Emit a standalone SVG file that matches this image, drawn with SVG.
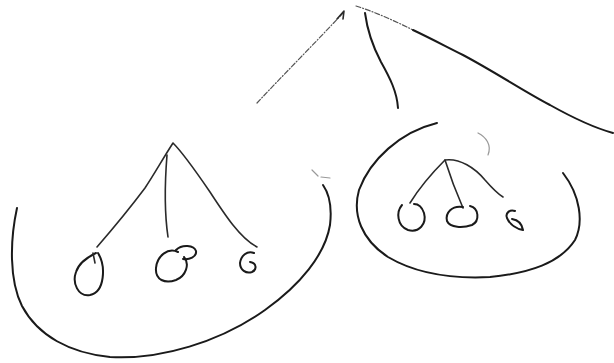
<svg xmlns="http://www.w3.org/2000/svg" width="614" height="363" viewBox="0 0 614 363">
<style>
.s{fill:none;stroke:#1a1a1a;stroke-width:2;stroke-linecap:round;stroke-linejoin:round}
.t{fill:none;stroke:#2a2a2a;stroke-width:1.6;stroke-linecap:round;stroke-linejoin:round}
.f{fill:none;stroke:#555;stroke-width:1.2;stroke-linecap:round;stroke-dasharray:5 2 1 2}
.g{fill:none;stroke:#999;stroke-width:1.2;stroke-linecap:round}
</style>
<rect width="614" height="363" fill="#fff"/>
<g id="connectors">
<path class="f" d="M257,103 C285,73 315,43 343,13"/>
<path class="t" d="M337,19 L344,11 L343,19"/>
<path class="f" d="M356,6 C375,12 395,21 413,30"/>
<path class="s" d="M413,30 C430,38 445,46 463,55 C495,72 525,92 550,105 C575,119 595,128 613,133"/>
<path class="s" d="M365,13 C367,28 372,45 381,62 C390,78 397,92 398,108"/>
</g>
<g id="left-group">
<path class="s" d="M17,208 C10,240 9,280 22,306 C38,336 70,353 110,357 C160,360 220,342 265,310 C300,285 325,255 330,225 C332,208 330,195 323,185"/>
<path class="g" d="M312,170 L318,176 M321,177 L330,178"/>
</g>
<g id="left-tree">
<path class="t" d="M97,247 C110,232 130,208 145,188 C155,173 162,160 173,143 C182,152 195,170 210,192 C225,215 240,238 257,247"/>
<path class="t" d="M167,155 C165,180 164,210 168,237"/>
</g>
<g id="left-node-1">
<path class="s" d="M98,253 C106,266 105,292 90,295 C78,297 72,283 76,272 C79,263 86,258 96,253"/>
<path class="t" d="M93,253 L95,263"/>
</g>
<g id="left-node-2">
<path class="s" d="M178,252 C168,247 157,256 156,268 C155,280 165,284 176,280 C186,276 190,264 184,257"/>
<path class="s" d="M176,250 C182,244 194,245 196,251 C197,257 189,260 183,259"/>
</g>
<g id="left-node-3">
<path class="s" d="M254,253 C247,250 241,256 240,263 C240,270 246,274 252,272 C257,270 257,263 250,262"/>
</g>
<g id="right-group">
<path class="s" d="M437,123 C400,132 370,160 359,190 C352,215 362,240 388,257 C415,273 450,279 490,277 C530,273 560,263 575,240 C584,222 580,195 563,173"/>
<path class="g" d="M478,133 C486,137 492,145 488,155"/>
</g>
<g id="right-tree">
<path class="t" d="M410,203 C418,190 430,175 445,160 C460,158 475,168 485,180 C492,188 498,194 503,197"/>
<path class="t" d="M445,160 C450,176 456,192 463,208"/>
</g>
<g id="right-node-1">
<path class="s" d="M402,205 C396,212 397,226 408,230 C419,233 427,224 424,213 C422,207 418,204 414,204"/>
</g>
<g id="right-node-2">
<path class="s" d="M463,207 C452,205 445,213 447,221 C450,228 463,228 472,225 C480,221 479,208 470,206"/>
</g>
<g id="right-node-3">
<path class="s" d="M515,211 C510,209 505,213 507,218 C510,225 517,229 523,230 C522,224 518,220 512,219"/>
</g>
</svg>
